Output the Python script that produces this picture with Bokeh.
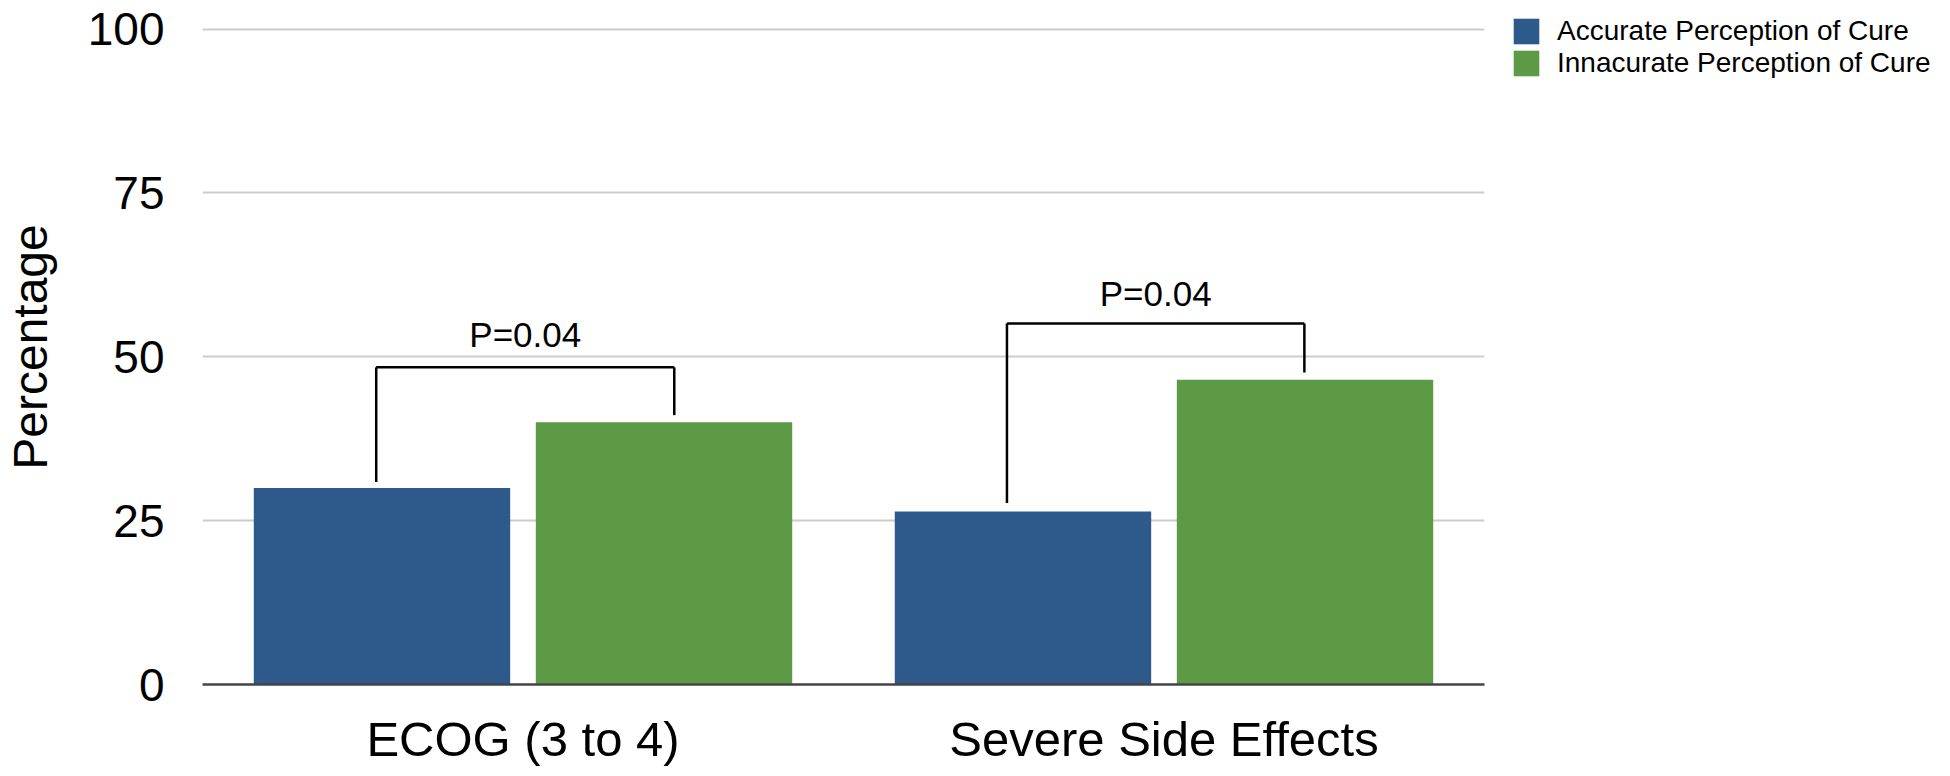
from bokeh.plotting import figure
from bokeh.models import ColumnDataSource, FactorRange, Range1d, Legend, LegendItem, FixedTicker
from bokeh.transform import dodge
from bokeh.core.properties import value
from bokeh.embed import file_html
from bokeh.resources import INLINE

# ---- data ----
categories = ["ECOG (3 to 4)", "Severe Side Effects"]
accurate = [30.0, 26.4]
inaccurate = [40.0, 46.5]
series_names = ["Accurate Perception of Cure", "Innacurate Perception of Cure"]
p_labels = ["P=0.04", "P=0.04"]
bracket_top = [48.4, 55.1]
bracket_left_low = [30.9, 27.7]
bracket_right_low = [41.1, 47.6]
p_label_y = [53.4, 59.6]
y_ticks = [0, 25, 50, 75, 100]

BLUE = "#2E5A8B"
GREEN = "#5C9A46"
FONT = "Liberation Sans"

src = ColumnDataSource(dict(cat=categories, acc=accurate, inacc=inaccurate))

p = figure(
    x_range=FactorRange(*categories, range_padding=0),
    y_range=Range1d(0, 103),
    frame_width=1282, frame_height=675,
    min_border_left=197, min_border_right=450, min_border_top=9, min_border_bottom=75,
    output_backend="svg", toolbar_location=None,
)
p.outline_line_color = None
p.background_fill_color = "white"

r1 = p.vbar(x=dodge("cat", -0.22, range=p.x_range), top="acc", width=0.40, source=src,
            fill_color=BLUE, line_color=None)
r2 = p.vbar(x=dodge("cat", 0.22, range=p.x_range), top="inacc", width=0.40, source=src,
            fill_color=GREEN, line_color=None)

# brackets
offsets_left = [-0.229, -0.245]
offsets_right = [0.236, 0.219]
for i, c in enumerate(categories):
    bs = ColumnDataSource(dict(cat=[c], top=[bracket_top[i]], ll=[bracket_left_low[i]],
                               rl=[bracket_right_low[i]], lab=[p_labels[i]], ly=[p_label_y[i]]))
    xl = dodge("cat", offsets_left[i], range=p.x_range)
    xr = dodge("cat", offsets_right[i], range=p.x_range)
    xm = dodge("cat", (offsets_left[i] + offsets_right[i]) / 2, range=p.x_range)
    p.segment(x0=xl, y0="ll", x1=xl, y1="top", source=bs, line_color="black", line_width=2.5)
    p.segment(x0=xl, y0="top", x1=xr, y1="top", source=bs, line_color="black", line_width=2.5)
    p.segment(x0=xr, y0="top", x1=xr, y1="rl", source=bs, line_color="black", line_width=2.5)
    p.text(x=xm, y="ly", text="lab", source=bs, text_align="center", text_baseline="middle",
           text_font=value(FONT), text_font_size="35px", text_color="black")

# axes
p.yaxis.ticker = FixedTicker(ticks=y_ticks)
p.yaxis.axis_line_color = None
p.yaxis.major_tick_line_color = None
p.yaxis.minor_tick_line_color = None
p.yaxis.major_label_standoff = 32
p.yaxis.major_label_text_font = FONT
p.yaxis.major_label_text_font_size = "46px"
p.yaxis.major_label_text_color = "black"
p.yaxis.axis_label = "Percentage"
p.yaxis.axis_label_text_font = FONT
p.yaxis.axis_label_text_font_size = "48px"
p.yaxis.axis_label_text_font_style = "normal"
p.yaxis.axis_label_text_color = "black"
p.yaxis.axis_label_standoff = 28

p.xaxis.axis_line_color = "#444444"
p.xaxis.axis_line_width = 2.5
p.xaxis.major_tick_line_color = None
p.xaxis.minor_tick_line_color = None
p.xaxis.major_label_standoff = 21
p.xaxis.major_label_text_font = FONT
p.xaxis.major_label_text_font_size = "49px"
p.xaxis.major_label_text_color = "black"

p.xgrid.grid_line_color = None
p.ygrid.grid_line_color = "#cccccc"
p.ygrid.grid_line_width = 2

legend = Legend(
    items=[LegendItem(label=series_names[0], renderers=[r1]),
           LegendItem(label=series_names[1], renderers=[r2])],
    location=(26, 605),
    padding=0, margin=0, spacing=0,
    glyph_width=32, glyph_height=32, label_standoff=15,
    label_text_font=FONT, label_text_font_size="28px", label_text_color="black",
    border_line_color=None, background_fill_alpha=0,
)
p.add_layout(legend, "right")

open("out.html", "w").write(file_html(p, INLINE))
